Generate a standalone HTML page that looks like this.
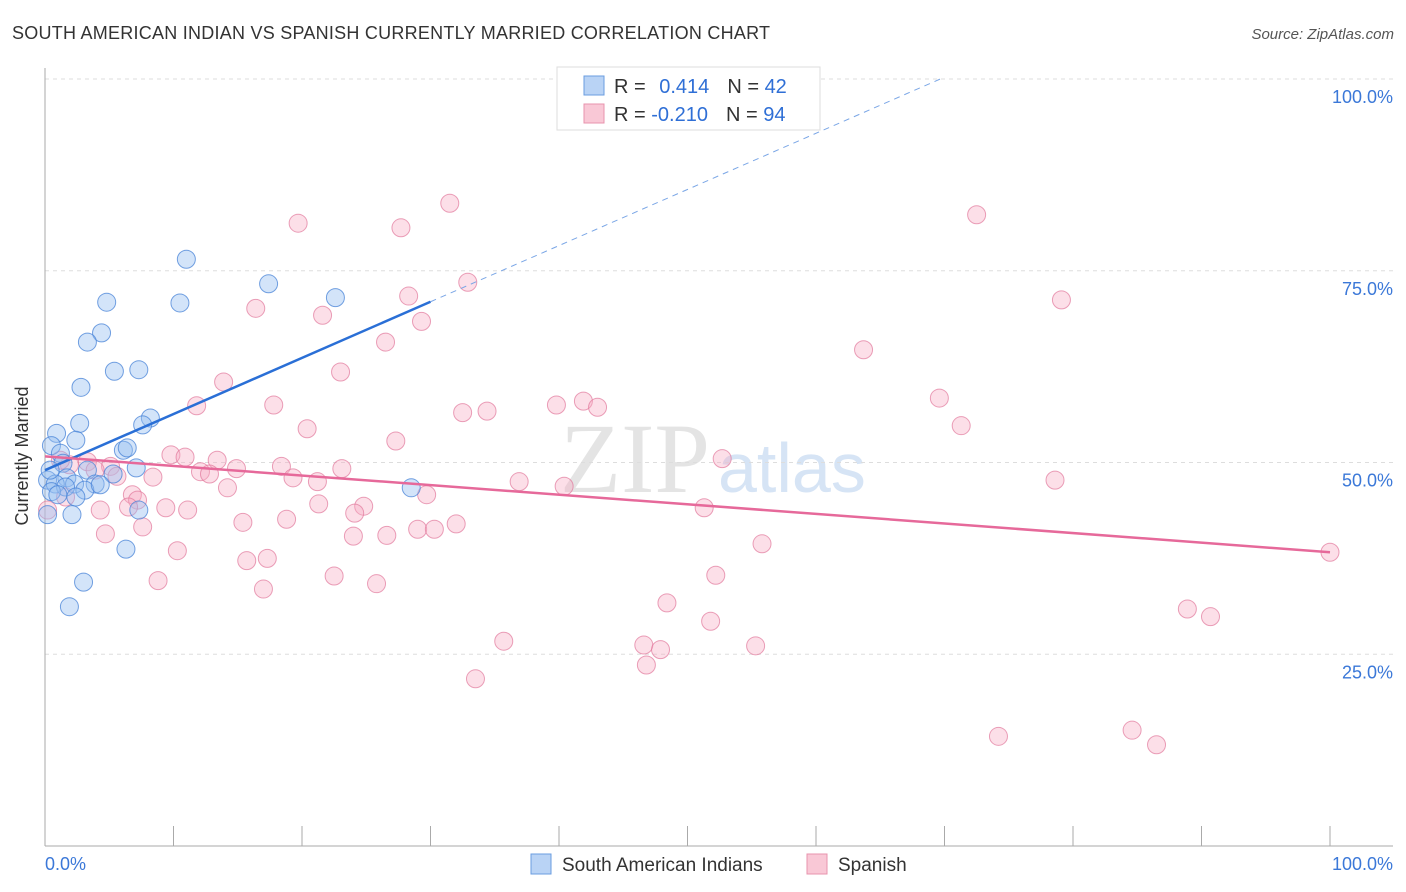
<!DOCTYPE html>
<html><head><meta charset="utf-8"><style>
body{margin:0;background:#fff;font-family:"Liberation Sans",sans-serif;}
svg{display:block}
</style></head><body>
<svg id="c" width="1406" height="892">
<text x="12" y="39" font-size="18" fill="#333" textLength="758">SOUTH AMERICAN INDIAN VS SPANISH CURRENTLY MARRIED CORRELATION CHART</text>
<text x="1394" y="39" font-size="15" fill="#555" font-style="italic" text-anchor="end">Source: ZipAtlas.com</text>
<text x="28" y="456" font-size="18" fill="#333" text-anchor="middle" transform="rotate(-90 28 456)">Currently Married</text>
<text x="560" y="492" font-size="100" fill="#e4e4e4" font-family="Liberation Serif,serif">ZIP</text>
<text x="718" y="492" font-size="70" fill="#d6e4f5">atlas</text>
<g id="grid"></g><g id="pts"></g><g id="lines"></g>
<g>
<rect x="557" y="67" width="263" height="63" fill="#fff" stroke="#ddd"/>
<rect x="584" y="76" width="20" height="19" fill="#b9d3f5" stroke="#6a9de0"/>
<rect x="584" y="104" width="20" height="19" fill="#f9c8d6" stroke="#e893ad"/>
<text x="614" y="93" font-size="20" fill="#333">R = <tspan fill="#2f6fd6" dx="8">0.414</tspan><tspan dx="18" fill="#333">N = </tspan><tspan fill="#2f6fd6">42</tspan></text>
<text x="614" y="121" font-size="20" fill="#333">R = <tspan fill="#2f6fd6">-0.210</tspan><tspan dx="18" fill="#333">N = </tspan><tspan fill="#2f6fd6">94</tspan></text>
</g>
<g>
<rect x="531" y="854" width="20" height="20" fill="#b9d3f5" stroke="#6a9de0"/>
<text x="562" y="871" font-size="19" fill="#333">South American Indians</text>
<rect x="807" y="854" width="20" height="20" fill="#f9c8d6" stroke="#e893ad"/>
<text x="838" y="871" font-size="19" fill="#333">Spanish</text>
</g>
</svg>
<script>
const blueX=[11.0,17.4,22.6,4.8,10.5,4.4,3.3,5.4,7.3,2.8,8.2,2.7,7.6,0.9,2.4,0.5,6.1,6.4,1.2,7.1,1.4,5.3,3.3,1.7,0.2,0.8,2.3,3.9,1.6,3.1,0.5,2.4,28.5,7.3,2.1,0.2,6.3,3.0,1.9,0.4,1.0,4.3];
const blueY=[76.5,73.3,71.5,70.9,70.8,66.9,65.7,61.9,62.1,59.8,55.8,55.1,54.9,53.8,52.9,52.2,51.6,51.9,51.2,49.3,49.9,48.5,49.0,48.0,47.7,47.2,47.2,47.2,46.8,46.4,46.2,45.5,46.7,43.8,43.2,43.2,38.7,34.4,31.2,49.0,45.8,47.1];
const pinkX=[31.5,19.7,27.7,72.5,32.9,28.3,16.4,21.6,29.3,79.1,26.5,63.7,23.0,13.9,69.6,11.8,17.8,32.5,34.4,39.8,41.9,43.0,71.3,20.4,27.3,9.8,10.9,13.4,52.7,3.3,5.1,1.9,18.4,14.9,23.1,12.1,12.8,5.6,8.4,19.3,21.2,36.9,40.4,78.6,14.2,29.7,6.8,7.2,1.6,21.3,6.5,9.4,11.1,24.8,4.3,51.3,24.1,15.4,18.8,7.6,32.0,29.0,30.3,4.7,24.0,26.6,55.8,10.3,17.3,15.7,22.5,52.2,8.8,25.8,17.0,48.4,88.9,90.7,51.8,35.7,46.6,55.3,47.9,46.8,33.5,74.2,84.6,86.5,100,0.2,3.9,1.2];
const pinkY=[83.8,81.2,80.6,82.3,73.5,71.7,70.1,69.2,68.4,71.2,65.7,64.7,61.8,60.5,58.4,57.4,57.5,56.5,56.7,57.5,58.0,57.2,54.8,54.4,52.8,51.0,50.7,50.3,50.5,50.1,49.5,49.7,49.5,49.2,49.2,48.8,48.5,48.2,48.1,48.0,47.5,47.5,46.9,47.7,46.7,45.8,45.8,45.1,45.5,44.6,44.2,44.1,43.8,44.3,43.8,44.1,43.4,42.2,42.6,41.6,42.0,41.3,41.3,40.7,40.4,40.5,39.4,38.5,37.5,37.2,35.2,35.3,34.6,34.2,33.5,31.7,30.9,29.9,29.3,26.7,26.2,26.1,25.6,23.6,21.8,14.3,15.1,13.2,38.3,43.8,49.0,50.3];
const blueLine=[49.0,122.2]; // y at x=0, x=100
const pinkLine=[50.8,38.3];
const yTicks=[25,50,75,100];
const xTickLabels=["0.0%","100.0%"];
const NS="http://www.w3.org/2000/svg";
const sx=v=>45+v*12.85, sy=v=>846-v*7.67;
function mk(t,a,p){const e=document.createElementNS(NS,t);for(const k in a)e.setAttribute(k,a[k]);p.appendChild(e);return e;}
const grid=document.getElementById('grid');
for(const t of yTicks){
 const l=mk('line',{x1:45,x2:1393,y1:sy(t),y2:sy(t),stroke:'#ddd','stroke-dasharray':'4,4'},grid);
 
 
 const tx=mk('text',{x:1393,y:sy(t)+24,'font-size':18,fill:'#3b78d8','text-anchor':'end'},grid);
 tx.textContent=t.toFixed(1)+'%';
 
 
}
const ax=mk('line',{x1:45,x2:45,y1:68,y2:846,stroke:'#aaa'},grid);


const bx=mk('line',{x1:45,x2:1393,y1:846,y2:846,stroke:'#aaa'},grid);


for(let i=0;i<=10;i++){
 const t=mk('line',{x1:sx(i*10),x2:sx(i*10),y1:826,y2:846,stroke:'#aaa'},grid);
 
 
}
[[0,'start',45],[100,'end',1393]].forEach((d,i)=>{
 const t=mk('text',{x:d[2],y:870,'font-size':18,fill:'#3b78d8','text-anchor':d[1]},grid);
 t.textContent=xTickLabels[i];
 
 
});
const pts=document.getElementById('pts');
pinkX.forEach((x,i)=>{
 const c=mk('circle',{cx:sx(x),cy:sy(pinkY[i]),r:9,fill:'rgba(246,170,195,0.38)',stroke:'rgba(225,120,155,0.7)','stroke-width':1},pts);
 
 
});
blueX.forEach((x,i)=>{
 const c=mk('circle',{cx:sx(x),cy:sy(blueY[i]),r:9,fill:'rgba(150,190,240,0.42)',stroke:'rgba(70,130,215,0.75)','stroke-width':1},pts);
 
 
});
const lines=document.getElementById('lines');
const by=x=>blueLine[0]+(blueLine[1]-blueLine[0])*x/100;
const xEnd=(100-blueLine[0])/(blueLine[1]-blueLine[0])*100;
const bl=mk('line',{x1:sx(0),y1:sy(by(0)),x2:sx(30),y2:sy(by(30)),stroke:'#2a6fd6','stroke-width':2.5},lines);


const bd=mk('line',{x1:sx(30),y1:sy(by(30)),x2:sx(xEnd),y2:sy(100),stroke:'#7aa6e6','stroke-width':1,'stroke-dasharray':'6,5'},lines);


const pl=mk('line',{x1:sx(0),y1:sy(pinkLine[0]),x2:sx(100),y2:sy(pinkLine[1]),stroke:'#e6699a','stroke-width':2.5},lines);


</script>
</body></html>
